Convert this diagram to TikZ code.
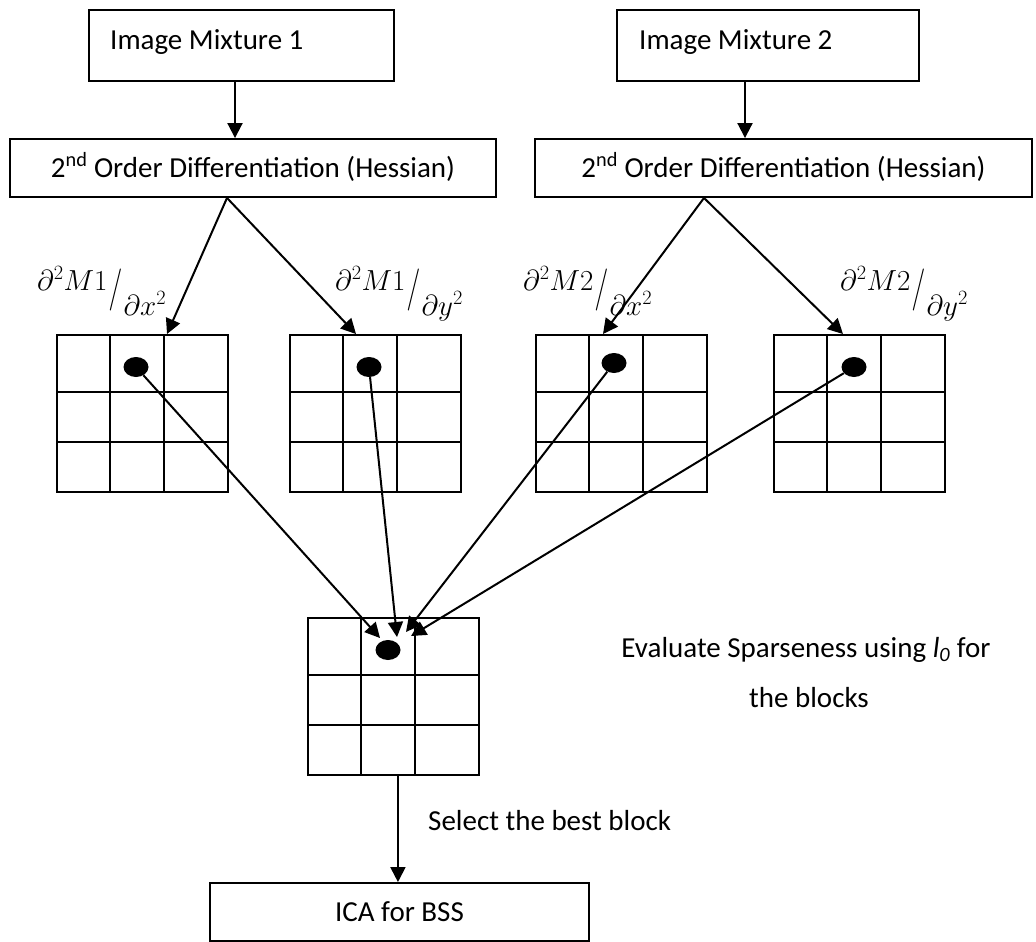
\documentclass[tikz,border=0pt]{standalone}
\usepackage{fix-cm}
\usepackage{graphicx}
\usepackage[no-math]{fontspec}
\setmainfont{Carlito}
\usetikzlibrary{arrows.meta,shapes.geometric}

% slanted fraction used for the partial derivative labels
\newcommand\partfrac[2]{$#1$\kern1pt\raisebox{-10pt}{\scalebox{1}[1.45]{$/$}}\kern1pt\raisebox{-25pt}{$#2$}}

% 3x3 block: outer frame node plus the inner cell lines
\newcommand\blockgrid[3]{%
  \node[gridbox, anchor=north west] (#1) at (#2,#3) {};
  \draw[gridline] (#2+54,#3) -- (#2+54,#3+157)
                  (#2+108,#3) -- (#2+108,#3+157)
                  (#2,#3+58) -- (#2+171,#3+58)
                  (#2,#3+108) -- (#2+171,#3+108);}

\tikzset{
  every node/.style={font=\fontsize{29}{35}\selectfont},
  box/.style={draw, line width=1.9pt, inner sep=0pt, text height=19pt, text depth=0pt},
  gridbox/.style={draw, line width=1.9pt, minimum width=171pt, minimum height=157pt, inner sep=0pt},
  gridline/.style={line width=1.9pt},
  dotmark/.style={ellipse, fill=black, minimum width=25pt, minimum height=20pt, inner sep=0pt},
  arr/.style={line width=2pt, -{Triangle[length=15pt, width=15pt]}},
  plain/.style={inner sep=0pt},
}

\begin{document}
\begin{tikzpicture}[x=1pt, y=-1pt]
\useasboundingbox (0,0) rectangle (1036,942);

% input images
\node[box, minimum width=305pt, minimum height=71pt] (im1) at (241.5,45.5) {};
\node[box, minimum width=302pt, minimum height=71pt] (im2) at (768,45.5) {};
\node[plain, anchor=base west] (im1t) at (110,50) {Image Mixture 1};
\node[plain, anchor=base west] (im2t) at (639,50) {Image Mixture 2};

% Hessian stages
\node[box, minimum width=486pt, minimum height=58pt] (hes1) at (253,168) {2\textsuperscript{nd} Order Differentiation (Hessian)};
\node[box, minimum width=497pt, minimum height=58pt] (hes2) at (783.5,168) {2\textsuperscript{nd} Order Differentiation (Hessian)};

\draw[arr] ([xshift=-6.5pt]im1.south) -- ([xshift=-6.5pt]im1.south |- hes1.north);
\draw[arr] ([xshift=-23pt]im2.south) -- ([xshift=-23pt]im2.south |- hes2.north);

% second derivative blocks
\blockgrid{g1}{56}{334}
\blockgrid{g2}{289}{334}
\blockgrid{g3}{535}{334}
\blockgrid{g4}{773}{334}
\blockgrid{g5}{307}{617}

\node[plain, anchor=base west] (lab1) at (37,290) {\partfrac{\partial^2 M1}{\partial x^2}};
\node[plain, anchor=base west] (lab2) at (335,290) {\partfrac{\partial^2 M1}{\partial y^2}};
\node[plain, anchor=base west] (lab3) at (523,290) {\partfrac{\partial^2 M2}{\partial x^2}};
\node[plain, anchor=base west] (lab4) at (840,290) {\partfrac{\partial^2 M2}{\partial y^2}};

\coordinate (h1out) at ([xshift=-26pt]hes1.south);
\coordinate (h2out) at ([xshift=-79.5pt]hes2.south);
\draw[arr] (h1out) -- ([xshift=111pt]g1.north west);
\draw[arr] (h1out) -- ([xshift=67pt]g2.north west);
\draw[arr] (h2out) -- ([xshift=68pt]g3.north west);
\draw[arr] (h2out) -- ([xshift=70pt]g4.north west);

% selected coefficients
\node[dotmark] (d1) at (136,367) {};
\node[dotmark] (d2) at (369,367) {};
\node[dotmark] (d3) at (614,363) {};
\node[dotmark] (d4) at (854,367) {};
\node[dotmark] (d5) at (388,650) {};

\coordinate (t1) at (380,638);
\coordinate (t2) at (397,637);
\coordinate (t3) at (406,632);
\coordinate (t4) at (411,636);
\draw[arr] (d1) -- (t1);
\draw[arr] (d2) -- (t2);
\draw[arr] (d3) -- (t3);
\draw[arr] (d4) -- (t4);

\node[plain, anchor=base] (ev1) at (806,657) {Evaluate Sparseness using \textit{l}\textsubscript{\textit{0}} for};
\node[plain, anchor=base] (ev2) at (809,707) {the blocks};

% final stage
\node[box, minimum width=379pt, minimum height=58pt] (ica) at (399.5,912) {ICA for BSS};
\draw[arr] ([xshift=4.5pt]g5.south) -- ([xshift=4.5pt]g5.south |- ica.north);
\node[plain, anchor=base west] (sel) at (428,830) {Select the best block};
\end{tikzpicture}
\end{document}
